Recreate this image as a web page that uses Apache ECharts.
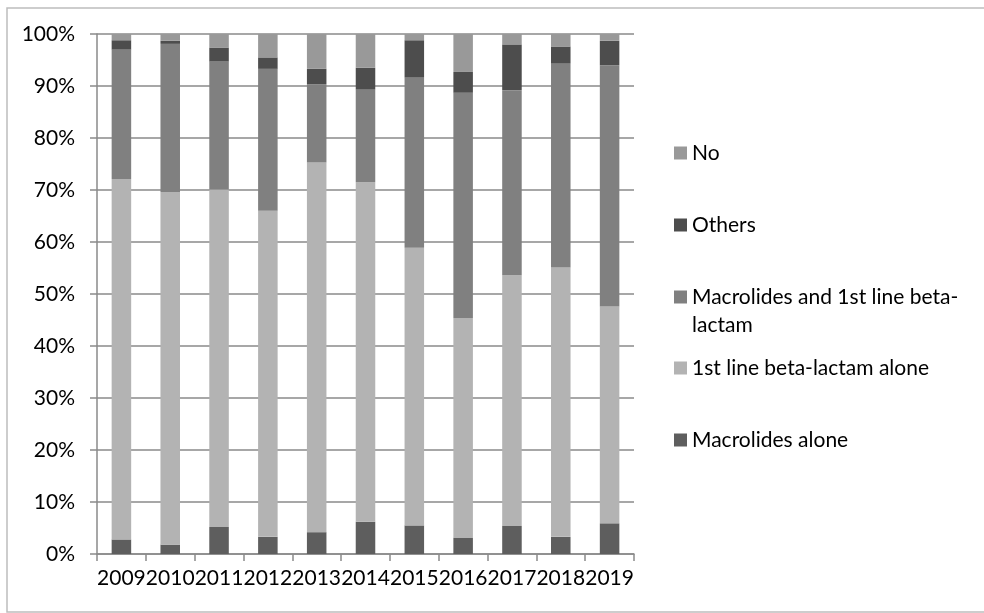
<!DOCTYPE html>
<html>
<head>
<meta charset="utf-8">
<script src="https://cdn.jsdelivr.net/npm/echarts@6/dist/echarts.min.js"></script>
<style>html,body{margin:0;padding:0;background:#fff}#c{width:984px;height:613px}</style>
</head>
<body>
<div id="c"></div>
<script>
const years = ['2009','2010','2011','2012','2013','2014','2015','2016','2017','2018','2019'];
const macrolidesAlone = [2.8, 1.8, 5.2, 3.3, 4.2, 6.2, 5.5, 3.1, 5.4, 3.3, 5.9];
const betaLactamAlone = [69.3, 67.8, 64.9, 62.7, 71.1, 65.3, 53.4, 42.3, 48.2, 51.8, 41.7];
const macrolidesAndBeta = [24.9, 28.5, 24.6, 27.3, 15.0, 17.9, 32.7, 43.3, 35.6, 39.3, 46.4];
const others = [1.8, 0.6, 2.7, 2.2, 3.0, 4.1, 7.2, 4.0, 8.8, 3.2, 4.7];
const no = [1.2, 1.3, 2.6, 4.5, 6.7, 6.5, 1.2, 7.3, 2.0, 2.4, 1.3];
const yTicks = [0, 10, 20, 30, 40, 50, 60, 70, 80, 90, 100];

const names = ['Macrolides alone', '1st line beta-lactam alone', 'Macrolides and 1st line beta-lactam', 'Others', 'No'];
const values = [macrolidesAlone, betaLactamAlone, macrolidesAndBeta, others, no];
const colors = ['#5e5e5e', '#b3b3b3', '#808080', '#4d4d4d', '#999999'];

const FONT = 'Lato';
const chart = echarts.init(document.getElementById('c'), null, {renderer: 'canvas'});

function legendFor(name, centerY, multi) {
  const ts = {fontFamily: FONT, fontSize: 21, color: '#000', lineHeight: multi ? 28 : 22};
  return {
    data: [name], left: 674, top: multi ? centerY - 42 : centerY - 11,
    padding: 0, itemWidth: 13, itemHeight: 13, itemGap: 8,
    icon: 'rect', selectedMode: false,
    formatter: multi ? () => '\nMacrolides and 1st line beta-\nlactam' : undefined,
    textStyle: ts
  };
}

chart.setOption({
  animation: false,
  backgroundColor: '#fff',
  graphic: [{
    type: 'rect', shape: {x: 7, y: 8, width: 990, height: 604},
    style: {fill: 'none', stroke: '#bdbdbd', lineWidth: 1.5}, silent: true
  }],
  grid: {left: 97, right: 350, top: 34, bottom: 59, containLabel: false},
  legend: [
    legendFor('No', 153, false),
    legendFor('Others', 225, false),
    legendFor('Macrolides and 1st line beta-lactam', 297, true),
    legendFor('1st line beta-lactam alone', 368, false),
    legendFor('Macrolides alone', 440, false)
  ],
  xAxis: {
    type: 'category', data: years,
    axisLine: {lineStyle: {color: '#8a8a8a', width: 1.5}},
    axisTick: {show: true, length: 7, lineStyle: {color: '#8a8a8a', width: 1.5}},
    axisLabel: {fontFamily: FONT, fontSize: 21, color: '#000', margin: 14, interval: 0}
  },
  yAxis: {
    type: 'value', min: 0, max: 100, interval: 10,
    axisLine: {show: true, lineStyle: {color: '#8a8a8a', width: 1.5}},
    axisTick: {show: true, length: 7, lineStyle: {color: '#8a8a8a', width: 1.5}},
    splitLine: {show: true, lineStyle: {color: '#8a8a8a', width: 1.5}},
    axisLabel: {fontFamily: FONT, fontSize: 21, color: '#000', margin: 22,
      formatter: v => yTicks.includes(v) ? v + '%' : ''}
  },
  series: names.map((n, i) => ({
    name: n, type: 'bar', stack: 'total', barWidth: '40%',
    data: values[i], itemStyle: {color: colors[i]}
  }))
});
</script>
</body>
</html>
